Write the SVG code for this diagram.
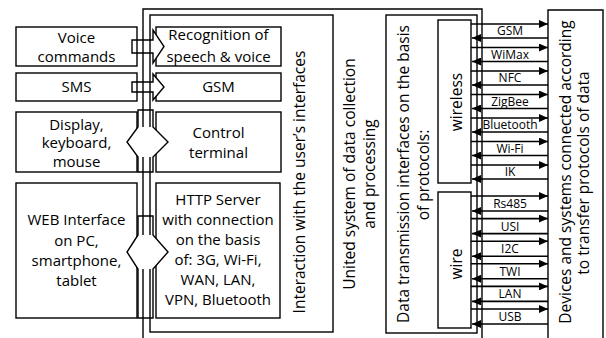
<svg xmlns="http://www.w3.org/2000/svg" width="606" height="338" viewBox="0 0 606 338">
<style>
.b{fill:none;stroke:#000;stroke-width:1.4}
.t{font-family:"Open Sans","Liberation Sans",sans-serif;font-size:15px;fill:#000;text-anchor:middle}
.v{font-family:"Open Sans","Liberation Sans",sans-serif;font-size:15.5px;fill:#000;text-anchor:middle}
.s{font-family:"Open Sans","Liberation Sans",sans-serif;font-size:12px;fill:#000;text-anchor:middle}
.ar{stroke:#000;stroke-width:1.6;fill:none}
</style>
<defs>
<marker id="ah" markerUnits="userSpaceOnUse" markerWidth="10" markerHeight="8" refX="9" refY="4" orient="auto">
<path d="M0,0 L9,4 L0,8 Z" fill="#000"/>
</marker>
</defs>
<rect width="606" height="338" fill="#fff"/>

<g id="united">
<path class="b" d="M143,345 V9 H482 V345"/>
<text class="v" transform="translate(355,174) rotate(-90)">United system of data collection</text>
<text class="v" transform="translate(375,174) rotate(-90)">and processing</text>
</g>
<g id="interaction">
<rect class="b" x="150" y="15" width="183" height="317"/>
<text class="v" transform="translate(305,182) rotate(-90)">Interaction with the user’s interfaces</text>
</g>
<g id="datatrans">
<rect class="b" x="386" y="15" width="91" height="318"/>
<text class="v" transform="translate(409,174) rotate(-90)">Data transmission interfaces on the basis</text>
<text class="v" transform="translate(429,175) rotate(-90)">of protocols:</text>
</g>
<g id="wireless">
<rect class="b" x="438" y="20" width="33" height="163"/>
<text class="v" transform="translate(462,102) rotate(-90)">wireless</text>
</g>
<g id="wire">
<rect class="b" x="438" y="192" width="33" height="136"/>
<text class="v" transform="translate(462,264) rotate(-90)">wire</text>
</g>
<g id="devices">
<path class="b" d="M548,345 V10 H603 V345"/>
<text class="v" transform="translate(571,172) rotate(-90)">Devices and systems connected according</text>
<text class="v" transform="translate(589,173) rotate(-90)">to transfer protocols of data</text>
</g>

<g id="voice">
<rect class="b" x="16" y="27" width="121" height="39"/>
<text class="t" x="76.5" y="43">Voice</text>
<text class="t" x="76.5" y="62">commands</text>
</g>
<g id="sms">
<rect class="b" x="16" y="73" width="121" height="28"/>
<text class="t" x="76.5" y="92">SMS</text>
</g>
<g id="display">
<rect class="b" x="16" y="112" width="121" height="60"/>
<text class="t" x="76.5" y="130">Display,</text>
<text class="t" x="76.5" y="148">keyboard,</text>
<text class="t" x="76.5" y="167">mouse</text>
</g>
<g id="web">
<rect class="b" x="16" y="183" width="121" height="135"/>
<text class="t" x="76.5" y="225">WEB Interface</text>
<text class="t" x="76.5" y="246">on PC,</text>
<text class="t" x="76.5" y="266">smartphone,</text>
<text class="t" x="76.5" y="286">tablet</text>
</g>
<g id="recognition">
<rect class="b" x="156" y="27" width="125" height="39"/>
<text class="t" x="218.5" y="40">Recognition of</text>
<text class="t" x="218.5" y="62">speech &amp; voice</text>
</g>
<g id="gsm">
<rect class="b" x="156" y="73" width="125" height="28"/>
<text class="t" x="218.5" y="92">GSM</text>
</g>
<g id="control">
<rect class="b" x="156" y="112" width="125" height="60"/>
<text class="t" x="218.5" y="138">Control</text>
<text class="t" x="218.5" y="158">terminal</text>
</g>
<g id="http">
<rect class="b" x="156" y="183" width="124" height="135"/>
<text class="t" x="218" y="205">HTTP Server</text>
<text class="t" x="218" y="225">with connection</text>
<text class="t" x="218" y="245">on the basis</text>
<text class="t" x="218" y="265">of: 3G, Wi-Fi,</text>
<text class="t" x="218" y="285">WAN, LAN,</text>
<text class="t" x="218" y="305">VPN, Bluetooth</text>
</g>

<g id="connectors">
<path d="M153,30 L164,46.5 L153,63 Z" fill="#fff"/>
<path class="b" d="M132,40 H153 V30 L164,46.5 L153,63 V53 H132 Z"/>
<path d="M153,74 L164,87 L153,100 Z" fill="#fff"/>
<path class="b" d="M132,82 H153 V74 L164,87 L153,100 V92 H132 Z"/>
<path d="M138,127 H153 L168,142 L153,157 H138 L127,142 Z" fill="#fff"/>
<path class="b" d="M138,110 V127 L127,142 L138,157 V172 H153 V157 L168,142 L153,127 V110 Z"/>
<path d="M138,235 H153 L168,252 L153,269 H138 L127,252 Z" fill="#fff"/>
<path class="b" d="M138,216 V235 L127,252 L138,269 V318 H153 V269 L168,252 L153,235 V216 Z"/>

<g class="ar">
<line x1="471" y1="24" x2="548" y2="24" marker-end="url(#ah)"/>
<line x1="548" y1="38" x2="472" y2="38" marker-end="url(#ah)"/>
<line x1="471" y1="47.5" x2="548" y2="47.5" marker-end="url(#ah)"/>
<line x1="548" y1="61.5" x2="472" y2="61.5" marker-end="url(#ah)"/>
<line x1="471" y1="71" x2="548" y2="71" marker-end="url(#ah)"/>
<line x1="548" y1="85" x2="472" y2="85" marker-end="url(#ah)"/>
<line x1="471" y1="94.5" x2="548" y2="94.5" marker-end="url(#ah)"/>
<line x1="548" y1="108.5" x2="472" y2="108.5" marker-end="url(#ah)"/>
<line x1="471" y1="118" x2="548" y2="118" marker-end="url(#ah)"/>
<line x1="548" y1="132" x2="472" y2="132" marker-end="url(#ah)"/>
<line x1="471" y1="141.5" x2="548" y2="141.5" marker-end="url(#ah)"/>
<line x1="548" y1="155.5" x2="472" y2="155.5" marker-end="url(#ah)"/>
<line x1="471" y1="165" x2="548" y2="165" marker-end="url(#ah)"/>
<line x1="548" y1="179" x2="472" y2="179" marker-end="url(#ah)"/>
<line x1="471" y1="196" x2="548" y2="196" marker-end="url(#ah)"/>
<line x1="548" y1="211" x2="472" y2="211" marker-end="url(#ah)"/>
<line x1="471" y1="218.6" x2="548" y2="218.6" marker-end="url(#ah)"/>
<line x1="548" y1="233.6" x2="472" y2="233.6" marker-end="url(#ah)"/>
<line x1="471" y1="241.2" x2="548" y2="241.2" marker-end="url(#ah)"/>
<line x1="548" y1="256.2" x2="472" y2="256.2" marker-end="url(#ah)"/>
<line x1="471" y1="263.8" x2="548" y2="263.8" marker-end="url(#ah)"/>
<line x1="548" y1="278.8" x2="472" y2="278.8" marker-end="url(#ah)"/>
<line x1="471" y1="286.4" x2="548" y2="286.4" marker-end="url(#ah)"/>
<line x1="548" y1="301.4" x2="472" y2="301.4" marker-end="url(#ah)"/>
<line x1="471" y1="309" x2="548" y2="309" marker-end="url(#ah)"/>
<line x1="548" y1="324" x2="472" y2="324" marker-end="url(#ah)"/>
</g>
<text class="s" x="510" y="35">GSM</text>
<text class="s" x="510" y="58.5">WiMax</text>
<text class="s" x="510" y="82">NFC</text>
<text class="s" x="510" y="105.5">ZigBee</text>
<text class="s" x="510" y="129">Bluetooth</text>
<text class="s" x="510" y="152.5">Wi-Fi</text>
<text class="s" x="510" y="176">IK</text>
<text class="s" x="510" y="208">Rs485</text>
<text class="s" x="510" y="230.6">USI</text>
<text class="s" x="510" y="253.2">I2C</text>
<text class="s" x="510" y="275.8">TWI</text>
<text class="s" x="510" y="298.4">LAN</text>
<text class="s" x="510" y="321">USB</text>
</g>
</svg>
